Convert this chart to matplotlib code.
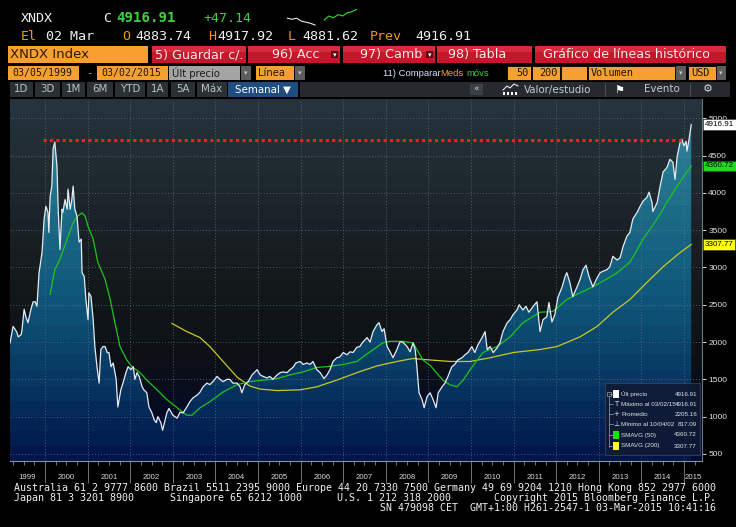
import matplotlib
matplotlib.use("Agg")
import matplotlib.pyplot as plt
import numpy as np
from matplotlib import font_manager
from matplotlib.colors import LinearSegmentedColormap
from matplotlib.patches import Polygon, Rectangle
from matplotlib.transforms import blended_transform_factory

# weekly closes of XNDX (x = decimal year)
week_dates = [
    1999.18, 1999.25, 1999.30, 1999.34, 1999.37, 1999.44, 1999.46, 1999.51, 1999.55, 1999.60, 1999.67, 1999.72, 1999.77, 1999.81, 1999.86, 1999.93, 1999.98,
    2000.02, 2000.07, 2000.09, 2000.12, 2000.16, 2000.19, 2000.23, 2000.28, 2000.31, 2000.35, 2000.40, 2000.42, 2000.47, 2000.52, 2000.54, 2000.59, 2000.63, 2000.66, 2000.70, 2000.75, 2000.80, 2000.85, 2000.87, 2000.92, 2000.96,
    2001.01, 2001.03, 2001.08, 2001.13, 2001.17, 2001.22, 2001.27, 2001.31, 2001.36, 2001.41, 2001.46, 2001.50, 2001.55, 2001.60, 2001.67, 2001.71, 2001.78, 2001.83, 2001.90, 2001.95,
    2002.02, 2002.07, 2002.11, 2002.16, 2002.21, 2002.28, 2002.32, 2002.39, 2002.44, 2002.51, 2002.56, 2002.61, 2002.65, 2002.72, 2002.76, 2002.82, 2002.86, 2002.91,
    2003.00, 2003.10, 2003.17, 2003.24, 2003.33, 2003.40, 2003.47, 2003.57, 2003.64, 2003.71, 2003.80, 2003.87, 2003.94,
    2004.04, 2004.11, 2004.18, 2004.27, 2004.34, 2004.41, 2004.51, 2004.58, 2004.62, 2004.69, 2004.77, 2004.86, 2004.93, 2004.98,
    2005.05, 2005.12, 2005.21, 2005.28, 2005.35, 2005.45, 2005.52, 2005.59, 2005.68, 2005.75, 2005.82, 2005.89, 2005.99,
    2006.06, 2006.15, 2006.22, 2006.29, 2006.38, 2006.46, 2006.55, 2006.62, 2006.69, 2006.76, 2006.85, 2006.92,
    2007.00, 2007.09, 2007.16, 2007.23, 2007.32, 2007.39, 2007.46, 2007.56, 2007.63, 2007.70, 2007.79, 2007.84, 2007.91, 2007.96,
    2008.03, 2008.10, 2008.17, 2008.26, 2008.33, 2008.40, 2008.50, 2008.57, 2008.64, 2008.69, 2008.73, 2008.78, 2008.85, 2008.90, 2008.97,
    2009.04, 2009.11, 2009.18, 2009.23, 2009.32, 2009.39, 2009.46, 2009.55, 2009.62, 2009.69, 2009.79, 2009.86, 2009.93,
    2010.02, 2010.09, 2010.16, 2010.26, 2010.33, 2010.38, 2010.45, 2010.52, 2010.61, 2010.68, 2010.75, 2010.85, 2010.92, 2010.99,
    2011.08, 2011.13, 2011.22, 2011.29, 2011.36, 2011.46, 2011.55, 2011.62, 2011.69, 2011.78, 2011.83, 2011.90, 2011.97,
    2012.04, 2012.14, 2012.21, 2012.25, 2012.32, 2012.39, 2012.49, 2012.56, 2012.63, 2012.70, 2012.77, 2012.86, 2012.96,
    2013.03, 2013.10, 2013.19, 2013.26, 2013.33, 2013.43, 2013.50, 2013.57, 2013.66, 2013.73, 2013.80, 2013.90, 2013.97,
    2014.04, 2014.13, 2014.18, 2014.25, 2014.27, 2014.37, 2014.44, 2014.51, 2014.60, 2014.67, 2014.74, 2014.79, 2014.84, 2014.91, 2014.95,
    2015.00, 2015.05, 2015.07, 2015.12, 2015.16, 2015.17,
]
week_close = [
    1990, 2210, 2170, 2130, 2070, 2100, 2170, 2440, 2340, 2260, 2440, 2540, 2540, 2480, 2930, 3200, 3650,
    3820, 3740, 3470, 3950, 4090, 4590, 4680, 4360, 3780, 3240, 3780, 3740, 3910, 3780, 4050, 3780, 3910, 4090, 3780, 3690, 3340, 3380, 2930, 2880, 2570,
    2300, 2660, 2610, 2300, 1940, 1670, 1450, 1900, 1940, 1940, 1860, 1860, 1670, 1720, 1500, 1130, 1360, 1450, 1590, 1670,
    1630, 1670, 1500, 1590, 1540, 1400, 1360, 1320, 1130, 1050, 960, 920, 1000, 920, 817, 960, 1050, 1110,
    1020, 980, 1060, 1050, 1130, 1200, 1250, 1290, 1330, 1400, 1450, 1430, 1470,
    1540, 1500, 1470, 1500, 1500, 1450, 1450, 1400, 1320, 1430, 1470, 1560, 1600, 1630,
    1560, 1540, 1520, 1540, 1500, 1560, 1590, 1600, 1590, 1630, 1660, 1720, 1740,
    1700, 1720, 1700, 1740, 1630, 1590, 1510, 1560, 1630, 1740, 1790, 1800,
    1860, 1830, 1870, 1860, 1930, 1940, 2000, 2060, 2000, 2140, 2230, 2260, 2140, 2180,
    1940, 1870, 1790, 1900, 2000, 2000, 1940, 1870, 1990, 1900, 1670, 1320, 1230, 1120, 1270,
    1320, 1230, 1120, 1320, 1400, 1450, 1540, 1670, 1700, 1760, 1790, 1830, 1860,
    1940, 1860, 1960, 2060, 2140, 1900, 1940, 1860, 1920, 1990, 2140, 2260, 2300, 2370,
    2430, 2500, 2430, 2480, 2400, 2480, 2540, 2140, 2300, 2340, 2530, 2270, 2370,
    2600, 2740, 2880, 2930, 2800, 2610, 2740, 2840, 2970, 3030, 2880, 2740, 2860,
    2930, 2950, 2970, 3010, 3150, 3100, 3130, 3280, 3420, 3470, 3650, 3740, 3820,
    3890, 3940, 4010, 3870, 3750, 3870, 4090, 4280, 4340, 4450, 4410, 4180, 4490, 4680, 4720,
    4630, 4690, 4560, 4720, 4880, 4916.91,
]

# 50 week moving average (green)
sma50_dates = [2000.12, 2000.23, 2000.35, 2000.52, 2000.66, 2000.77, 2000.87, 2000.94,
               2001.01, 2001.13, 2001.24, 2001.41, 2001.53, 2001.64, 2001.76, 2001.92,
               2002.04, 2002.23, 2002.39, 2002.63, 2002.86, 2003.10, 2003.33, 2003.45, 2003.64, 2003.87,
               2004.18, 2004.51, 2004.81, 2005.12, 2005.45, 2005.75, 2006.06, 2006.38, 2006.62,
               2007.00, 2007.32, 2007.63, 2007.93, 2008.10, 2008.40, 2008.64, 2008.87,
               2009.04, 2009.20, 2009.34, 2009.50, 2009.67, 2009.83, 2009.98,
               2010.28, 2010.61, 2010.92, 2011.22, 2011.62, 2011.92, 2012.25, 2012.56, 2012.86,
               2013.26, 2013.43, 2013.73, 2014.04, 2014.37, 2014.67, 2014.98, 2015.17]
sma50_values = [2640, 2970, 3110, 3380, 3600, 3690, 3730, 3690,
                3550, 3380, 3070, 2840, 2570, 2260, 1940, 1760,
                1670, 1590, 1490, 1360, 1230, 1120, 1020, 1020, 1120, 1200,
                1330, 1430, 1470, 1490, 1510, 1560, 1600, 1660, 1670,
                1700, 1740, 1870, 1990, 2010, 2010, 1990, 1760,
                1690, 1580, 1490, 1430, 1400, 1500, 1630,
                1860, 1940, 2070, 2260, 2400, 2410, 2570, 2660, 2740,
                2870, 2930, 3070, 3380, 3650, 3940, 4210, 4360.72]

# 200 week moving average (yellow)
sma200_dates = [2002.98, 2003.33, 2003.64, 2003.87, 2004.18, 2004.51, 2004.81, 2005.05, 2005.45,
                2005.99, 2006.38, 2006.85, 2007.32, 2007.79, 2008.26, 2008.64, 2009.04, 2009.51,
                2009.98, 2010.45, 2010.99, 2011.62, 2012.02, 2012.56, 2012.96, 2013.33, 2013.73,
                2014.13, 2014.51, 2014.91, 2015.17]
sma200_values = [2250, 2140, 2060, 1940, 1740, 1530, 1410, 1370, 1350,
                 1360, 1400, 1490, 1590, 1680, 1740, 1780, 1760, 1740,
                 1740, 1790, 1860, 1900, 1940, 2070, 2210, 2400, 2570,
                 2800, 3010, 3200, 3307.77]

prev_high = 4715            # red dotted level (2000 top)
prev_high_span = (1999.95, 2014.98)

y_ticks = [500, 1000, 1500, 2000, 2500, 3000, 3500, 4000, 4500, 5000]
year_labels = list(range(1999, 2016))

# little intraday sparkline in the header
spark_prev = [4893, 4890, 4893, 4885, 4882, 4879, 4874]
spark_today = [4888, 4899, 4894, 4903, 4899, 4908, 4911, 4917]

legend_rows = [("Últ precio", "4916.91"),
               ("Máximo al 03/02/15", "4916.91"),
               ("Promedio", "2205.16"),
               ("Mínimo al 10/04/02", "817.09"),
               ("SMAVG (50)", "4360.72"),
               ("SMAVG (200)", "3307.77")]

footer_lines = ["Australia 61 2 9777 8600 Brazil 5511 2395 9000 Europe 44 20 7330 7500 Germany 49 69 9204 1210 Hong Kong 852 2977 6000",
                "SN 479098 CET  GMT+1:00 H261-2547-1 03-Mar-2015 10:41:16"]

ORANGE = "#f7a030"
RED = "#c4172b"
WHITE = "#f0f0f0"
MONO = "DejaVu Sans Mono"
SANS = "DejaVu Sans"
installed = {f.name for f in font_manager.fontManager.ttflist}
NARROW = "Liberation Sans Narrow" if "Liberation Sans Narrow" in installed else "Liberation Sans"
small = 5.2 if NARROW == "Liberation Sans Narrow" else 4.5

fig = plt.figure(figsize=(7.36, 5.27), dpi=100, facecolor="black")

# ---------------- chart ----------------
x_start, x_end = 1999.178, 2015.423
y_lo, y_hi = 406, 5258
ax = fig.add_axes([10 / 736, 66 / 527, 692 / 736, 362 / 527])
ax.set_xlim(x_start, x_end)
ax.set_ylim(y_lo, y_hi)
ax.patch.set_alpha(0)

bg_cmap = LinearSegmentedColormap.from_list(
    "bg", [(0, "#26333c"), (0.3, "#1b242a"), (0.55, "#121719"), (0.75, "#0c1016"), (0.9, "#050a28"), (1, "#020833")])
fill_cmap = LinearSegmentedColormap.from_list(
    "fill", [(0, "#358aa0"), (0.3, "#1c6c87"), (0.55, "#0f567a"), (0.75, "#083d66"), (0.9, "#042657"), (1, "#01174b")])
bands = np.linspace(0, 1, 24)
ax.imshow(bg_cmap(bands)[:, None, :3], extent=[x_start, x_end, y_lo, y_hi], aspect="auto",
          origin="upper", interpolation="nearest", zorder=0)
im_fill = ax.imshow(fill_cmap(bands)[:, None, :3], extent=[x_start, x_end, y_lo, y_hi], aspect="auto",
                    origin="upper", interpolation="nearest", zorder=1)
verts = [(week_dates[0], y_lo)] + list(zip(week_dates, week_close)) + [(week_dates[-1], y_lo)]
area = Polygon(verts, closed=True, fc="none", ec="none", transform=ax.transData)
ax.add_patch(area)
im_fill.set_clip_path(area)

ax.plot(sma200_dates, sma200_values, color="#c9c926", lw=0.9, zorder=3)
ax.plot(sma50_dates, sma50_values, color="#1fc41f", lw=0.9, zorder=3)
ax.plot(week_dates, week_close, color="#e6ecf2", lw=0.9, zorder=4)
ax.plot(prev_high_span, [prev_high, prev_high], color="#ff1e1e", lw=2.2,
        ls=(0, (1, 1.1)), dash_capstyle="butt", zorder=5)

ax.set_xticks(range(2000, 2016))
ax.set_xticks(np.arange(1999.25, 2015.3, 0.25), minor=True)
ax.set_yticks(y_ticks)
ax.set_yticklabels([str(v) for v in y_ticks], family=NARROW)
ax.yaxis.tick_right()
ax.grid(True, which="major", color="#6e7c88", lw=0.6, ls=(0, (1, 2.5)), alpha=0.85)
ax.tick_params(axis="x", which="major", length=16, width=0.6, color="#7d868d", labelbottom=False)
ax.tick_params(axis="x", which="minor", length=3, width=0.6, color="#7d868d")
ax.tick_params(axis="y", length=3, width=0.6, color="white", pad=1.5, labelsize=6, labelcolor="#dde2e6")
for side in ("left", "top"):
    ax.spines[side].set_visible(False)
ax.spines["bottom"].set_color("#8a9399")
ax.spines["right"].set_color("#6c757c")

# year names centred in each year
xt = blended_transform_factory(ax.transData, ax.transAxes)
for yr in year_labels:
    mid = (max(yr, x_start) + min(yr + 1, x_end)) / 2
    ax.text(mid, -0.045, str(yr), transform=xt, ha="center", va="center",
            fontsize=5.6, color="#d8d8d8", family=NARROW, clip_on=False)

# value tags on the right axis
yt = blended_transform_factory(ax.transAxes, ax.transData)
for val, fc in ((week_close[-1], "white"), (sma50_values[-1], "#19e019"), (sma200_values[-1], "#ffff10")):
    ax.text(1.004, val, f"{val:.2f}", transform=yt, ha="left", va="center", fontsize=5.8,
            family=NARROW, color="black", clip_on=False, zorder=10,
            bbox=dict(boxstyle="square,pad=0.22", fc=fc, ec="#333333", lw=0.4))

# ---------------- screen chrome (pixel coordinates) ----------------
ui = fig.add_axes([0, 0, 1, 1], zorder=5)
ui.set_xlim(0, 736)
ui.set_ylim(527, 0)
ui.axis("off")
ui.patch.set_alpha(0)


def box(x0, x1, y0, y1, fc, ec="none", lw=0.5, alpha=1.0):
    ui.add_patch(Rectangle((x0, y0), x1 - x0, y1 - y0, fc=fc, ec=ec, lw=lw, alpha=alpha))


def txt(x, y, s, color=WHITE, size=9.6, family=MONO, weight="normal", ha="left"):
    ui.text(x, y, s, color=color, fontsize=size, family=family, fontweight=weight, ha=ha, va="center")


# quote lines
txt(21, 18, "XNDX")
txt(103, 18, "C")
txt(116, 18, "4916.91", color="#3fd23f", size=10.2, weight="bold")
txt(203, 18, "+47.14", color="#3fd23f")
for lab, x_lab, val, x_val in (("El", 21, "02 Mar", 46), ("O", 122, "4883.74", 135), ("H", 208, "4917.92", 217),
                               ("L", 288, "4881.62", 302), ("Prev", 370, "4916.91", 415)):
    txt(x_lab, 37, lab, color="#f0961e")
    txt(x_val, 37, val)

sp = fig.add_axes([284 / 736, (527 - 28) / 527, 76 / 736, 20 / 527])
sp.plot(range(len(spark_prev)), spark_prev, color="#e8e8e8", lw=0.8)
sp.plot(np.arange(len(spark_today)) + len(spark_prev) + 1, spark_today, color="#2fe02f", lw=0.8)
sp.set_ylim(4866, 4921)
sp.axis("off")

# toolbar
box(8, 148, 46, 63, ORANGE)
txt(10, 54.5, "XNDX Index", color="#2e1a00", size=9.5, family=SANS)
for x0, x1, s, tx, drop in ((152, 246, "5) Guardar c/.", 155, False), (248, 340, "96) Acc", 272, True),
                            (343, 435, "97) Camb", 360, True), (437, 532, "98) Tabla", 448, False),
                            (535, 726, "Gráfico de líneas histórico", 543, False)):
    box(x0, x1, 46, 63, RED)
    box(x0, x1, 46, 52, "#d52b3d")
    txt(tx, 54.5, s, color="#ffeaea", size=9.2, family=SANS)
    if drop:
        box(x1 - 9, x1 - 2, 51, 58, "#5a0a12")
        txt(x1 - 5.5, 54.8, "▾", color="white", size=5, family=SANS, ha="center")

# range / style row
box(8, 79, 66, 80, ORANGE)
txt(12, 73, "03/05/1999", color="#241400", size=7.1)
txt(86, 73, "-", color=ORANGE, size=7.6)
box(97, 168, 66, 80, ORANGE)
txt(101, 73, "03/02/2015", color="#241400", size=7.1)
box(169, 240, 66, 80, "#a4a4a4")
txt(172, 73, "Últ precio", color="#1a1a1a", size=7.2, family=SANS)
box(256, 294, 66, 80, ORANGE)
txt(258, 73, "Línea", color="#241400", size=7.2, family=SANS)
for x0 in (241, 295, 676, 716):
    box(x0, x0 + 10, 66, 80, "#5c5c5c")
    txt(x0 + 5, 73.5, "▾", color="#c8c8c8", size=5, family=SANS, ha="center")
txt(383, 73, "11) Comparar", color="#d6e2ff", size=6.8, family=NARROW)
txt(440, 73, "Meds", color=ORANGE, size=6.8, family=NARROW)
txt(466, 73, "móvs", color="#3ccc3c", size=6.8, family=NARROW)
for x0, x1, s, right in ((507, 531, "50", True), (532, 560, "200", True), (561, 587, "", False),
                         (588, 675, "Volumen", False), (688, 716, "USD", False)):
    box(x0, x1, 66, 80, ORANGE, ec="black", lw=0.6)
    if right:
        txt(x1 - 2, 73, s, color="#241400", size=7.4, ha="right")
    else:
        txt(x0 + 3, 73, s, color="#241400", size=7.4)

# period buttons
for x0, x1, s in ((10, 33, "1D"), (35, 60, "3D"), (62, 85, "1M"), (87, 113, "6M"), (115, 145, "YTD"),
                  (147, 168, "1A"), (171, 195, "5A"), (197, 227, "Máx")):
    box(x0, x1, 82, 97, "#2b3035")
    txt((x0 + x1) / 2, 89.5, s, color="#b9c0c7", size=7.4, family=SANS, ha="center")
box(228, 298, 82, 97, "#1f4d7e")
txt(263, 89.5, "Semanal ▼", color="white", size=7.4, family=SANS, ha="center")
box(300, 730, 82, 97, "#262a2f")
box(470, 483, 84, 95, "#3a4047")
txt(476.5, 89.5, "«", color="#d0d0d0", size=6.5, family=SANS, ha="center")
ui.plot([503, 507, 510, 514, 518], [90, 86, 88, 84, 86], color="white", lw=0.7)
for bx in (503, 507, 511, 515):
    box(bx, bx + 2, 92, 95, "white")
txt(524, 89.5, "Valor/estudio", color="#c6ccd2", size=7.4, family=SANS)
ui.plot([605, 605], [83, 96], color="#555b61", lw=0.6)
txt(614, 89.5, "⚑", color="white", size=8, family=SANS)
txt(644, 89.5, "Evento", color="#c6ccd2", size=7.4, family=SANS)
ui.plot([690, 690], [83, 96], color="#555b61", lw=0.6)
txt(708, 89.5, "⚙", color="#d0d0d0", size=8, family=SANS, ha="center")

# legend panel inside the chart
box(605, 700, 383, 455, "#101a33", ec="#3a4560", lw=0.6, alpha=0.9)
ui.plot([609, 609], [397, 447], color="#9aa4b0", lw=0.5)
box(607, 611, 392, 396, "#101a33", ec="#c0c8d0", lw=0.4)
row_y = [394, 404, 414, 424, 435, 446]
marks = ["white", None, None, None, "#19e019", "#ffff10"]
glyphs = ["", "T", "+", "⊥", "", ""]
for (name, val), y, fc, g in zip(legend_rows, row_y, marks, glyphs):
    ui.plot([609, 613], [y, y], color="#9aa4b0", lw=0.5)
    if fc:
        box(613, 619, y - 4, y + 4, fc)
    else:
        txt(616, y, g, color="#e0e4ea", size=5, family=SANS, ha="center")
    txt(621, y, name, color="#dfe4ea", size=small, family=NARROW)
    txt(697, y, val, color="#dfe4ea", size=small, family=NARROW, ha="right")

# footer
txt(14, 488, footer_lines[0], size=7.2)
txt(14, 498, "Japan 81 3 3201 8900", size=7.2)
txt(170, 498, "Singapore 65 6212 1000", size=7.2)
txt(337, 498, "U.S. 1 212 318 2000", size=7.2)
txt(716, 498, "Copyright 2015 Bloomberg Finance L.P.", size=7.2, ha="right")
txt(716, 508, footer_lines[1], size=7.2, ha="right")

fig.savefig("out.png", dpi=100, facecolor="black")
